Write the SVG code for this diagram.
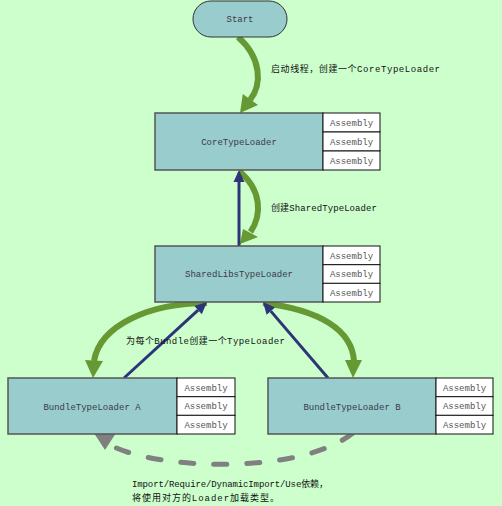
<svg xmlns="http://www.w3.org/2000/svg" width="502" height="506" viewBox="0 0 502 506">
<style>
.main{fill:#99cccc;stroke:#555;stroke-width:1.5}
.cell{fill:#fff;stroke:#111;stroke-width:1}
.t{font-family:"Liberation Mono","Noto Sans CJK SC",monospace;font-size:9px;fill:#3a3a4a;text-anchor:middle}
.c{font-family:"Liberation Mono","Noto Sans CJK SC",monospace;font-size:9px;fill:#555;text-anchor:middle}
.lbl{font-family:"Liberation Mono","Noto Sans CJK SC",monospace;font-size:9px;fill:#111}
.g{fill:none;stroke:#669933;stroke-width:6}
.gh{fill:#669933}
.b{stroke:#2e3478;stroke-width:3;fill:none}
.bh{fill:#2e3478}
.d{fill:none;stroke:#808080;stroke-width:5;stroke-linecap:round;stroke-dasharray:13 20}
</style>
<rect width="502" height="506" fill="#ccffcc"/>
<g id="connectors">
<path class="d" d="M353,433 C300,475 160,470 112,446"/>
<polygon fill="#808080" points="90,427 105,450 116,433"/>
<path class="g" d="M238,37 C262,58 262,85 250,100"/>
<polygon class="gh" points="240,113 242.8,94 258,105"/>
<path class="g" d="M239,171 C262,190 262,215 250.5,232"/>
<polygon class="gh" points="240,244 243,229 258,237"/>
<line class="b" x1="239" y1="246" x2="239" y2="181"/>
<polygon class="bh" points="239,170 233.5,182 244.5,182"/>
<path class="g" d="M207,303 C150,303 100,325 94,361"/>
<polygon class="gh" points="93,378 85,360 103,361"/>
<path class="g" d="M263,303 C320,310 352,330 354,361"/>
<polygon class="gh" points="353,378 345,360 362,360"/>
<line class="b" x1="124" y1="378" x2="198.1" y2="310.1"/>
<polygon class="bh" points="207,302 201.8,314.2 194.4,306"/>
<line class="b" x1="328" y1="378" x2="270.8" y2="311.1"/>
<polygon class="bh" points="263,302 275,307.5 266.6,314.7"/>
</g>
<g id="start">
<rect x="193" y="1" width="94" height="36" rx="18" fill="#99cccc" stroke="#333" stroke-width="1"/>
<text class="t" x="240" y="21.5">Start</text>
</g>
<g id="core">
<rect class="main" x="155" y="113" width="168" height="57"/>
<rect class="cell" x="323" y="113" width="57" height="19"/>
<rect class="cell" x="323" y="132" width="57" height="19"/>
<rect class="cell" x="323" y="151" width="57" height="19"/>
<text class="t" x="239" y="144.5">CoreTypeLoader</text>
<text class="c" x="351.5" y="125.5">Assembly</text>
<text class="c" x="351.5" y="144.5">Assembly</text>
<text class="c" x="351.5" y="163.5">Assembly</text>
</g>
<g id="shared">
<rect class="main" x="155" y="246" width="168" height="56"/>
<rect class="cell" x="323" y="246" width="57" height="18.7"/>
<rect class="cell" x="323" y="264.7" width="57" height="18.7"/>
<rect class="cell" x="323" y="283.3" width="57" height="18.7"/>
<text class="t" x="239" y="276.5">SharedLibsTypeLoader</text>
<text class="c" x="351.5" y="258.5">Assembly</text>
<text class="c" x="351.5" y="277">Assembly</text>
<text class="c" x="351.5" y="295.5">Assembly</text>
</g>
<g id="bundleA">
<rect class="main" x="8" y="378" width="169" height="56"/>
<rect class="cell" x="177" y="378" width="58" height="18.7"/>
<rect class="cell" x="177" y="396.7" width="58" height="18.7"/>
<rect class="cell" x="177" y="415.3" width="58" height="18.7"/>
<text class="t" x="92" y="409.5">BundleTypeLoader A</text>
<text class="c" x="206" y="390.5">Assembly</text>
<text class="c" x="206" y="409">Assembly</text>
<text class="c" x="206" y="427.5">Assembly</text>
</g>
<g id="bundleB">
<rect class="main" x="268" y="378" width="168" height="56"/>
<rect class="cell" x="436" y="378" width="57" height="18.7"/>
<rect class="cell" x="436" y="396.7" width="57" height="18.7"/>
<rect class="cell" x="436" y="415.3" width="57" height="18.7"/>
<text class="t" x="352" y="409.5">BundleTypeLoader B</text>
<text class="c" x="464.5" y="390.5">Assembly</text>
<text class="c" x="464.5" y="409">Assembly</text>
<text class="c" x="464.5" y="427.5">Assembly</text>
</g>
<g id="labels">
<text class="lbl" x="271" y="71.5" textLength="169" lengthAdjust="spacing">启动线程，创建一个CoreTypeLoader</text>
<text class="lbl" x="271" y="210.5" textLength="106" lengthAdjust="spacing">创建SharedTypeLoader</text>
<text class="lbl" x="126" y="343.5" textLength="159" lengthAdjust="spacing">为每个Bundle创建一个TypeLoader</text>
<text class="lbl" x="132" y="486.5" textLength="196" lengthAdjust="spacing">Import/Require/DynamicImport/Use依赖，</text>
<text class="lbl" x="132" y="501" textLength="147" lengthAdjust="spacing">将使用对方的Loader加载类型。</text>
</g>
</svg>
